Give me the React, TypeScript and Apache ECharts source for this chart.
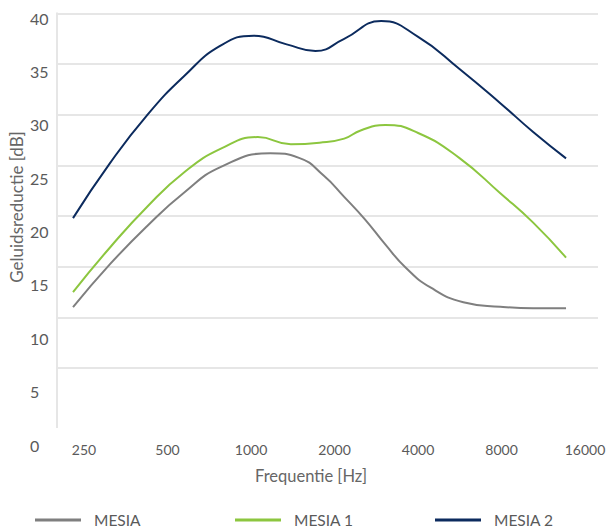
import React, { useEffect, useRef } from "react";
import * as echarts from "echarts";

// Frequency tick labels (octave bands)
const freqLabels = ["250", "500", "1000", "2000", "4000", "8000", "16000"];
// Y tick labels
const yTicks = [0, 5, 10, 15, 20, 25, 30, 35, 40];

// Positions along the frequency axis in octaves from 250 Hz, with values in dB
const mesiaX = [0, 0.45, 0.9, 1.35, 1.8, 2.4, 2.75, 3.05, 3.3, 3.55, 3.8, 4.05, 4.35, 4.75, 5.2, 5.6, 6];
const mesiaY = [11.0, 15.25, 19.0, 22.3, 24.85, 26.2, 25.75, 24.0, 21.9, 19.7, 17.2, 14.9, 12.95, 11.5, 11.05, 10.9, 10.9];

const mesia1X = [0, 0.45, 0.9, 1.35, 1.8, 2.25, 2.65, 3.0, 3.3, 3.5, 3.8, 4.2, 4.7, 5.2, 5.6, 6];
const mesia1Y = [12.5, 16.9, 20.9, 24.3, 26.65, 27.8, 27.1, 27.25, 27.65, 28.45, 29.0, 28.2, 25.75, 22.25, 19.35, 15.9];

const mesia2X = [0, 0.45, 0.9, 1.35, 1.8, 2.2, 2.6, 2.95, 3.3, 3.75, 4.2, 4.7, 5.2, 5.6, 6];
const mesia2Y = [19.8, 25.23, 29.95, 33.8, 36.85, 37.8, 36.95, 36.3, 37.5, 39.25, 37.7, 34.55, 31.15, 28.3, 25.7];

const seriesNames = ["MESIA", "MESIA 1", "MESIA 2"];
const seriesColors = ["#7f7f7f", "#8cc63f", "#0c2b5e"];

const zip = (xs: number[], ys: number[]) => xs.map((x, i) => [x, ys[i]]);

export default function App() {
  const ref = useRef<HTMLDivElement>(null);
  useEffect(() => {
    if (!ref.current) return;
    const chart = echarts.init(ref.current, undefined, { renderer: "svg" });
    const font = "Lato, 'Open Sans', sans-serif";
    const txt = "#5a5a5a";
    const datasets = [zip(mesiaX, mesiaY), zip(mesia1X, mesia1Y), zip(mesia2X, mesia2Y)];
    const legendLefts = [30, 230, 430];
    chart.setOption({
      animation: false,
      grid: [
        { left: 57, right: 11, top: 13.5, bottom: 163 },
        { left: 84, right: 24, top: 18, bottom: 86 },
        { left: 84, right: 24, top: 0, bottom: 92 },
      ],
      xAxis: [
        { type: "value", gridIndex: 0, min: -0.195, max: 6.389, show: false },
        { type: "value", gridIndex: 1, show: false, min: 0, max: 1 },
        {
          type: "category",
          gridIndex: 2,
          data: freqLabels,
          boundaryGap: false,
          axisLine: { show: false },
          axisTick: { show: false },
          axisLabel: { color: txt, fontSize: 14, fontFamily: font, margin: 3 },
        },
      ],
      yAxis: [
        {
          type: "value",
          gridIndex: 0,
          min: 5,
          max: 40,
          interval: 5,
          axisLine: { show: false },
          axisTick: { show: false },
          axisLabel: { show: false },
          splitLine: { show: true, lineStyle: { color: "#e6e6e6", width: 2 } },
        },
        {
          type: "value",
          gridIndex: 1,
          min: yTicks[0],
          max: yTicks[yTicks.length - 1],
          interval: 5,
          axisLine: { show: false },
          axisTick: { show: false },
          splitLine: { show: false },
          axisLabel: { color: txt, fontSize: 16, fontFamily: font, align: "left", margin: 54 },
        },
        { type: "value", gridIndex: 2, show: false },
      ],
      legend: seriesNames.map((n, i) => ({
        data: [n],
        left: legendLefts[i],
        top: 507,
        icon: "rect",
        itemWidth: 46,
        itemHeight: 3,
        textStyle: { color: txt, fontSize: 15.5, fontFamily: font, padding: [0, 0, 0, 8] },
      })),
      graphic: [
        { type: "line", shape: { x1: 57, y1: 12.5, x2: 57, y2: 428 }, style: { stroke: "#e6e6e6", lineWidth: 2 } },
        {
          type: "text",
          x: 16,
          y: 207,
          rotation: Math.PI / 2,
          style: { text: "Geluidsreductie [dB]", fill: "#666666", fontSize: 17, fontFamily: font, align: "center", verticalAlign: "middle" },
        },
        {
          type: "text",
          x: 311,
          y: 476,
          style: { text: "Frequentie [Hz]", fill: "#666666", fontSize: 16.5, fontFamily: font, align: "center", verticalAlign: "middle" },
        },
      ],
      series: seriesNames.map((n, i) => ({
        name: n,
        type: "line",
        xAxisIndex: 0,
        yAxisIndex: 0,
        data: datasets[i],
        smooth: 0.5,
        showSymbol: false,
        symbol: "none",
        color: seriesColors[i],
        lineStyle: { color: seriesColors[i], width: 2 },
      })),
    });
    return () => chart.dispose();
  }, []);
  return <div ref={ref} style={{ width: 609, height: 531, position: "absolute", left: 0, top: 0 }} />;
}
